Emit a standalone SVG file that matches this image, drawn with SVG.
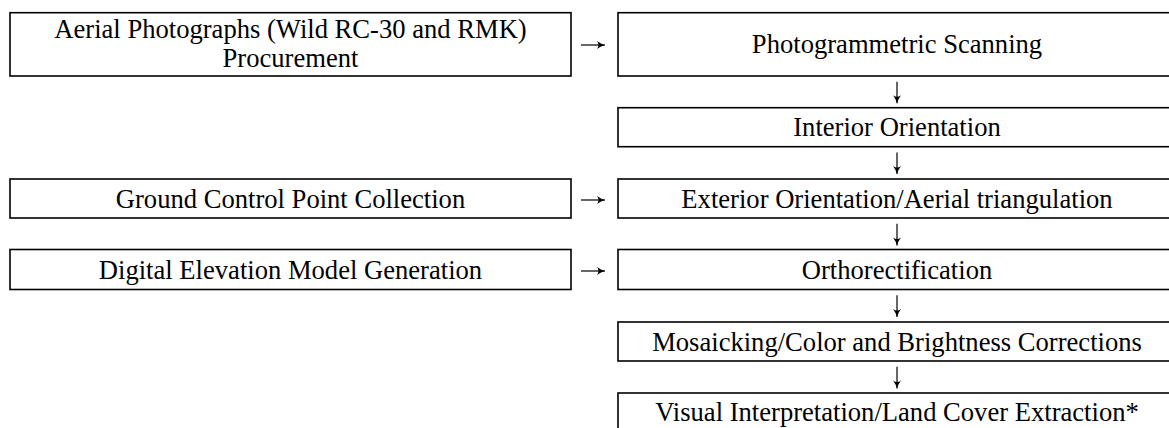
<svg xmlns="http://www.w3.org/2000/svg" width="1169" height="428" viewBox="0 0 1169 428">
<defs>
<style>
.box{fill:#fff;stroke:#000;stroke-width:1.6}
.t{font-family:"Liberation Serif","Times New Roman",serif;font-size:26.6px;fill:#000;text-anchor:middle}
.c{stroke:#000;stroke-width:1.2;fill:none}
</style>
<marker id="ah" markerWidth="10" markerHeight="10" refX="8" refY="5" orient="auto" markerUnits="userSpaceOnUse">
<path d="M0,1 Q4,4 8,5 Q4,6 0,9 Q3,5 0,1 z" fill="#000"/>
</marker>
</defs>
<rect width="1169" height="428" fill="#fff"/>
<g id="aerial">
<rect class="box" x="10" y="12.7" width="561" height="63.3"/>
<text class="t" x="290.5" y="37.5">Aerial Photographs (Wild RC-30 and RMK)</text>
<text class="t" x="290.5" y="67">Procurement</text>
</g>
<g id="scanning">
<rect class="box" x="618" y="12.7" width="558" height="63.3"/>
<text class="t" x="897" y="53">Photogrammetric Scanning</text>
</g>
<g id="interior">
<rect class="box" x="618" y="107.7" width="558" height="39"/>
<text class="t" x="897" y="136">Interior Orientation</text>
</g>
<g id="gcp">
<rect class="box" x="10" y="179" width="561" height="39"/>
<text class="t" x="290.5" y="207.5">Ground Control Point Collection</text>
</g>
<g id="exterior">
<rect class="box" x="618" y="179" width="558" height="39"/>
<text class="t" x="897" y="207.5">Exterior Orientation/Aerial triangulation</text>
</g>
<g id="dem">
<rect class="box" x="10" y="249.5" width="561" height="40"/>
<text class="t" x="290.5" y="278.5">Digital Elevation Model Generation</text>
</g>
<g id="ortho">
<rect class="box" x="618" y="249.5" width="558" height="40"/>
<text class="t" x="897" y="278.5">Orthorectification</text>
</g>
<g id="mosaic">
<rect class="box" x="618" y="322" width="558" height="39"/>
<text class="t" x="897" y="350.5">Mosaicking/Color and Brightness Corrections</text>
</g>
<g id="visual">
<rect class="box" x="618" y="393" width="558" height="40"/>
<text class="t" x="897" y="421">Visual Interpretation/Land Cover Extraction*</text>
</g>
<g id="connectors">
<path class="c" d="M581,45 H605" marker-end="url(#ah)"/>
<path class="c" d="M581,200 H605" marker-end="url(#ah)"/>
<path class="c" d="M581,271 H605" marker-end="url(#ah)"/>
<path class="c" d="M897,81.7 V103.3" marker-end="url(#ah)"/>
<path class="c" d="M897,152.5 V174" marker-end="url(#ah)"/>
<path class="c" d="M897,223.8 V245.4" marker-end="url(#ah)"/>
<path class="c" d="M897,295.3 V317" marker-end="url(#ah)"/>
<path class="c" d="M897,366.8 V388.4" marker-end="url(#ah)"/>
</g>
</svg>
